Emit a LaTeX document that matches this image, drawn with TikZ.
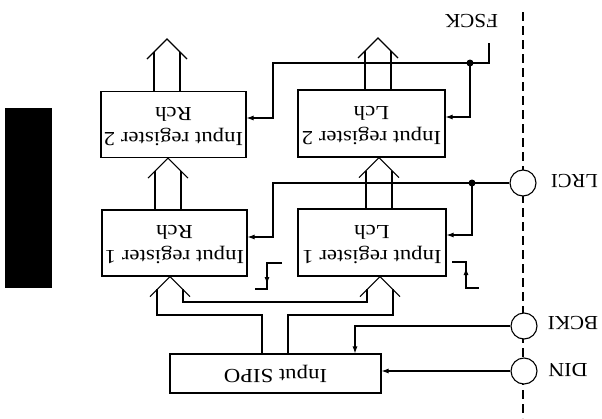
\documentclass[tikz,border=0pt]{standalone}
\usepackage{fontspec}
\setmainfont{Liberation Serif}
\usetikzlibrary{arrows.meta}
\newcommand\myflip[2]{\rotatebox[origin=c]{180}{\scalebox{#1}[1]{#2}}}
\begin{document}
\begin{tikzpicture}[x=1pt,y=-1pt,line width=1.1pt,
  box/.style={draw,inner sep=0pt,align=center,font=\fontsize{20}{25}\selectfont},
  lbl/.style={inner sep=0pt,font=\fontsize{20}{24}\selectfont},
  port/.style={draw,circle,fill=white,minimum size=26pt,inner sep=0pt},
  clk/.style={-{Latex[length=7pt,width=5pt]}},
  dot/.style={circle,fill,inner sep=0pt,minimum size=7pt},
  pics/fathead/.style={code={\draw (-20,20) -- (0,0) -- (20,20);}}]
\useasboundingbox (0,0) rectangle (602,418);
% black bar
\fill (5,108) rectangle (52,288);
% dashed boundary
\draw[dash pattern=on 9pt off 5pt] (523,12) -- (523,418);
% boxes
\node[box,minimum width=145pt,minimum height=66pt] (r2R) at (173.5,124.5)
  {\myflip{1.14}{\begin{tabular}{@{}c@{}}Input register 2\\Rch\end{tabular}}};
\node[box,minimum width=147pt,minimum height=67pt] (r2L) at (371.5,123.5)
  {\myflip{1.14}{\begin{tabular}{@{}c@{}}Input register 2\\Lch\end{tabular}}};
\node[box,minimum width=145pt,minimum height=66pt] (r1R) at (174.5,243)
  {\myflip{1.14}{\begin{tabular}{@{}c@{}}Input register 1\\Rch\end{tabular}}};
\node[box,minimum width=148pt,minimum height=67pt] (r1L) at (372,242.5)
  {\myflip{1.14}{\begin{tabular}{@{}c@{}}Input register 1\\Lch\end{tabular}}};
\node[box,minimum width=211pt,minimum height=39pt] (sipo) at (275.5,373.5)
  {\myflip{1.14}{Input SIPO}};
% ports
\node[port] (lrci) at (523,183) {};
\node[port] (bcki) at (524,326) {};
\node[port] (din) at (524,371) {};
\node[lbl] (tfsck) at (471.5,21.5) {\myflip{1.06}{FSCK}};
\node[lbl] (tlrci) at (574.5,181) {\myflip{1.03}{LRCI}};
\node[lbl] (tbcki) at (573,323.5) {\myflip{1.05}{BCKI}};
\node[lbl] (tdin) at (568,370) {\myflip{1.1}{DIN}};
% fat output arrows of register 2
\pic at (167,39) {fathead};
\draw (154,52) -- (154,52 |- r2R.north);
\draw (180,52) -- (180,52 |- r2R.north);
\pic at (378,38) {fathead};
\draw (365,51) -- (365,51 |- r2L.north);
\draw (391,51) -- (391,51 |- r2L.north);
% register 1 -> register 2
\pic at (168,0 |- r2R.south) {fathead};
\draw (155,171) -- (155,171 |- r1R.north);
\draw (181,171) -- (181,171 |- r1R.north);
\pic at (379,0 |- r2L.south) {fathead};
\draw (366,171) -- (366,171 |- r1L.north);
\draw (392,171) -- (392,171 |- r1L.north);
% SIPO -> register 1
\pic at (170,0 |- r1R.south) {fathead};
\pic at (380,0 |- r1L.south) {fathead};
\draw (157,289) |- (262,315) -- (262,0 |- sipo.north);
\draw (393,289) |- (288,315) -- (288,0 |- sipo.north);
\draw (183,289) |- (367,302) -- (367,289);
% FSCK
\coordinate (fsckend) at (489,43);
\node[dot] (fdot) at (470,63) {};
\draw (fsckend) -- (489,63) -- (fdot.center);
\draw[clk] (fdot.center) -| (273,118) -- (273,118 -| r2R.east);
\draw[clk] (fdot.center) |- (470,117 -| r2L.east);
% LRCI
\node[dot] (ldot) at (472,183) {};
\draw (lrci.west) -- (ldot.center);
\draw[clk] (ldot.center) -| (273,237) -- (273,237 -| r1R.east);
\draw[clk] (ldot.center) |- (472,235 -| r1L.east);
% BCKI, DIN
\draw[clk] (bcki.west) -| (355,0 |- sipo.north);
\draw[clk] (din.west) -- (din.west -| sipo.east);
% edge marks
\draw (282,263) -- (267,263) -- (267,289) -- (255,289);
\draw[clk] (267,263) -- (267,284);
\draw (452,262) -- (466,262) -- (466,288) -- (479,288);
\draw[clk] (466,288) -- (466,268);
\end{tikzpicture}
\end{document}
